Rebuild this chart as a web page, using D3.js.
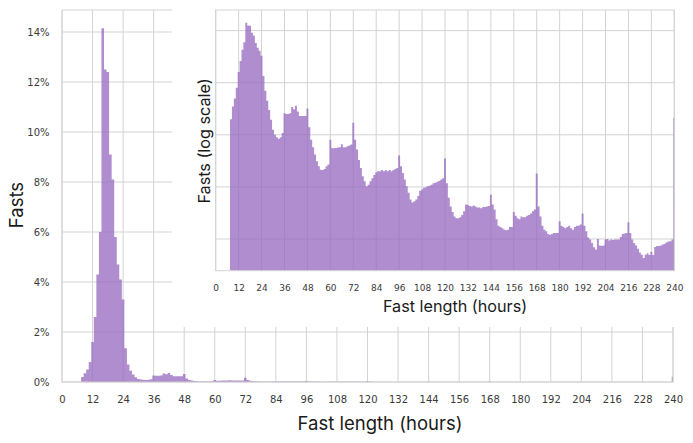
<!DOCTYPE html>
<html><head><meta charset="utf-8">
<script src="https://cdn.jsdelivr.net/npm/d3@7"></script>
<style>body{margin:0;background:#fff}</style>
</head><body><svg id="c" width="693" height="443"></svg>
<script>
// share of fasts (%) per fast length in hours, bins 0..240 (240 = 240 h and longer)
const hours = d3.range(0, 241);
const fastPct = [
  0,0,0,0,0,0,0,0,
  0.2,0.35,0.5,0.8,1.6,2.6,4.3,6.0,14.15,12.5,12.4,9.1,8.1,5.8,4.7,4.1,3.3,1.35,0.7,0.45,0.3,0.195,0.125,0.1,0.09,0.084,0.09,0.108,
  0.26,0.25,0.25,0.26,0.34,0.31,0.36,0.28,0.23,0.23,0.23,0.23,0.32,0.14,0.08,0.058,0.042,0.031,0.025,0.0214,0.021,0.022,0.025,0.027,
  0.08,0.055,0.055,0.056,0.057,0.058,0.066,0.058,0.058,0.06,0.062,0.065,0.17,0.08,0.052,0.033,0.023,0.016,0.0128,0.0103,0.011,0.0128,0.0147,0.017,
  0.019,0.02,0.02,0.021,0.02,0.021,0.02,0.021,0.02,0.021,0.022,0.023,0.04,0.025,0.0185,0.0138,0.0103,0.0077,0.0057,0.005,0.0053,0.0057,0.0067,0.0084,
  0.0089,0.0096,0.0098,0.0103,0.0105,0.011,0.0118,0.012,0.0125,0.013,0.0138,0.0147,0.035,0.0118,0.0062,0.0042,0.0033,0.0027,0.0025,0.0025,0.0026,0.0029,0.0034,0.0046,
  0.0045,0.0043,0.0042,0.0044,0.0042,0.004,0.004,0.0039,0.0041,0.0041,0.0042,0.0043,0.0071,0.0046,0.0037,0.0024,0.0018,0.0017,0.0016,0.00152,0.00147,0.0015,0.0017,0.0017,
  0.0033,0.0028,0.0025,0.0024,0.0027,0.0026,0.0026,0.0028,0.0029,0.0031,0.0034,0.0037,0.018,0.0042,0.0027,0.0018,0.0015,0.0014,0.00125,0.0012,0.00125,0.0013,0.0013,0.0013,
  0.0022,0.0018,0.0017,0.0016,0.0017,0.0018,0.0016,0.0015,0.0017,0.0018,0.0018,0.0019,0.0031,0.0018,0.0014,0.00107,0.00098,0.00084,0.00069,0.00063,0.001,0.00075,0.00073,0.00075,
  0.00098,0.001,0.00093,0.00098,0.00096,0.00098,0.00098,0.00098,0.00109,0.00125,0.00127,0.0013,0.0021,0.0013,0.00098,0.00084,0.00075,0.00065,0.00055,0.0005,0.00043,0.0005,0.00053,0.00049,
  0.00057,0.00049,0.0007,0.00073,0.00073,0.00075,0.00078,0.00081,0.00087,0.00089,0.0009,0.00098,
  0.21
];
const xTicks = d3.range(0, 241, 12);
const mainYTicks = [0, 2, 4, 6, 8, 10, 12, 14];
const insetYGrid = [0.001, 0.01, 0.1, 1, 10];
const xLabel = "Fast length (hours)";
const mainYLabel = "Fasts";
const insetYLabel = "Fasts (log scale)";

const bins = hours.map((h, i) => ({h, v: fastPct[i]})).filter(d => d.v > 0);
// closing point so the last bin gets its right edge
const steps = bins.concat([{h: bins[bins.length - 1].h + 1, v: bins[bins.length - 1].v}]);
const svg = d3.select("#c");
const defs = svg.append("defs");
const GRID = "#d3d3d3", BAR = "#9467bd", TXT = "#3a3a3a";
const tickFont = "DejaVu Sans, sans-serif", labFont = "Inter, sans-serif";

function histPath(g, x, y, y0, clipId) {
  g.append("path").datum(steps)
    .attr("clip-path", `url(#${clipId})`)
    .attr("d", d3.area().curve(d3.curveStepAfter)
      .x(d => x(d.h - 0.5)).y0(y0).y1(d => y(d.v)))
    .attr("fill", BAR).attr("fill-opacity", 0.75);
}

// ---------- main chart ----------
const mx = d3.scaleLinear([0, 240], [62, 673]);
const my = d3.scaleLinear([0, 14.88], [382, 10]);
defs.append("clipPath").attr("id", "cm").append("rect")
  .attr("x", mx(0)).attr("y", my(14.88)).attr("width", mx(240) - mx(0)).attr("height", my(0) - my(14.88));
const main = svg.append("g");
main.append("g").selectAll("line").data(mainYTicks).join("line")
  .attr("x1", mx(0)).attr("x2", mx(240)).attr("y1", d => my(d)).attr("y2", d => my(d))
  .attr("stroke", GRID).attr("stroke-width", 1);
main.append("g").selectAll("line").data(xTicks).join("line")
  .attr("x1", d => mx(d)).attr("x2", d => mx(d)).attr("y1", my(14.88)).attr("y2", my(0))
  .attr("stroke", GRID).attr("stroke-width", 1);
histPath(main, mx, my, my(0), "cm");
main.append("rect").attr("x", mx(0)).attr("y", my(14.88)).attr("width", mx(240) - mx(0)).attr("height", my(0) - my(14.88))
  .attr("fill", "none").attr("stroke", GRID).attr("stroke-width", 1);
const mxa = main.append("g").attr("transform", `translate(0,${my(0)})`)
  .call(d3.axisBottom(mx).tickValues(xTicks).tickSize(0).tickPadding(13.5));
const mya = main.append("g").attr("transform", `translate(${mx(0)},0)`)
  .call(d3.axisLeft(my).tickValues(mainYTicks).tickSize(0).tickPadding(12.5).tickFormat(d => d + "%"));
[mxa, mya].forEach(a => {
  a.select(".domain").remove();
  a.selectAll("text").attr("font-family", tickFont).attr("font-size", 10).attr("fill", TXT);
});
main.append("text").attr("x", 380).attr("y", 430).attr("text-anchor", "middle")
  .attr("font-family", labFont).attr("font-size", 18.5).attr("fill", "#1a1a1a").text(xLabel);
main.append("text").attr("transform", "translate(23,205) rotate(-90)").attr("text-anchor", "middle")
  .attr("font-family", labFont).attr("font-size", 18.5).attr("fill", "#1a1a1a").text(mainYLabel);

// ---------- inset background ----------
svg.append("rect").attr("x", 172).attr("y", 0).attr("width", 521).attr("height", 327).attr("fill", "#fff");

// ---------- inset chart (log scale) ----------
const ix = d3.scaleLinear([0, 240], [215.7, 674.3]);
const iy = d3.scaleLog([0.000246, 24.9], [270.7, 10]);
defs.append("clipPath").attr("id", "ci").append("rect")
  .attr("x", ix(0)).attr("y", iy(24.9)).attr("width", ix(240) - ix(0)).attr("height", iy(0.000246) - iy(24.9));
const ins = svg.append("g");
ins.append("g").selectAll("line").data(insetYGrid).join("line")
  .attr("x1", ix(0)).attr("x2", ix(240)).attr("y1", d => iy(d)).attr("y2", d => iy(d))
  .attr("stroke", GRID).attr("stroke-width", 1);
ins.append("g").selectAll("line").data(xTicks).join("line")
  .attr("x1", d => ix(d)).attr("x2", d => ix(d)).attr("y1", iy(24.9)).attr("y2", iy(0.000246))
  .attr("stroke", GRID).attr("stroke-width", 1);
histPath(ins, ix, iy, iy(0.000246), "ci");
ins.append("rect").attr("x", ix(0)).attr("y", iy(24.9)).attr("width", ix(240) - ix(0)).attr("height", iy(0.000246) - iy(24.9))
  .attr("fill", "none").attr("stroke", GRID).attr("stroke-width", 1);
const ixa = ins.append("g").attr("transform", `translate(0,${iy(0.000246)})`)
  .call(d3.axisBottom(ix).tickValues(xTicks).tickSize(0).tickPadding(13.5));
ixa.select(".domain").remove();
ixa.selectAll("text").attr("font-family", tickFont).attr("font-size", 9).attr("fill", TXT);
ins.append("text").attr("x", 455).attr("y", 311.5).attr("text-anchor", "middle")
  .attr("font-family", labFont).attr("font-size", 16.2).attr("fill", "#1a1a1a").text(xLabel);
ins.append("text").attr("transform", "translate(210,141) rotate(-90)").attr("text-anchor", "middle")
  .attr("font-family", labFont).attr("font-size", 16.2).attr("fill", "#1a1a1a").text(insetYLabel);
</script></body></html>
